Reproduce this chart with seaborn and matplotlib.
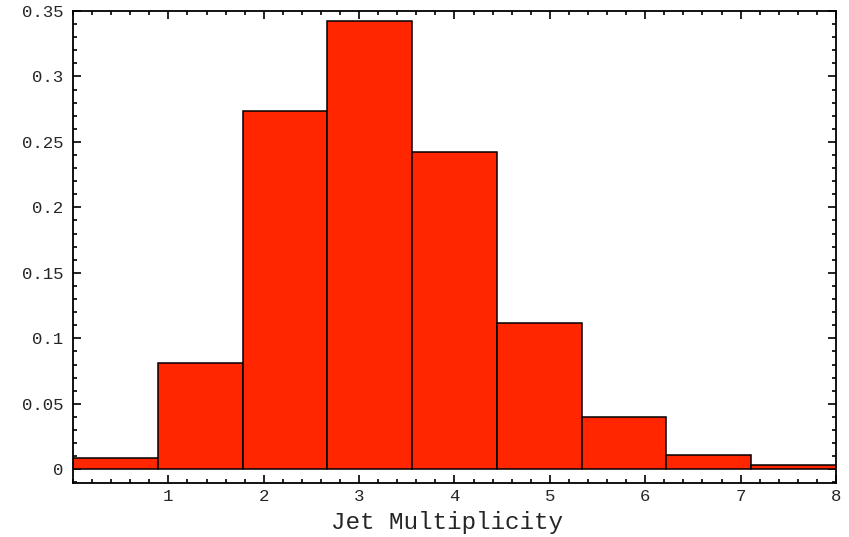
import numpy as np
import pandas as pd
import matplotlib
matplotlib.use("Agg")
import matplotlib.pyplot as plt
from matplotlib.ticker import MultipleLocator, FixedLocator
import seaborn as sns

# Normalised jet-multiplicity distribution, nine equal-width bins spanning 0..8
bin_edges = list(np.linspace(0.0, 8.0, 10))
fractions = [0.0084, 0.0811, 0.2737, 0.3420, 0.2420, 0.1119, 0.0397, 0.0111, 0.0033]
x_tick_values = [1, 2, 3, 4, 5, 6, 7, 8]
y_tick_values = [0, 0.05, 0.1, 0.15, 0.2, 0.25, 0.3, 0.35]
y_tick_labels = ["0", "0.05", "0.1", "0.15", "0.2", "0.25", "0.3", "0.35"]

centers = [(a + b) / 2 for a, b in zip(bin_edges[:-1], bin_edges[1:])]
df = pd.DataFrame({"multiplicity": centers, "fraction": fractions})

sns.set_style("white")
plt.rcParams["font.family"] = ["Liberation Mono", "DejaVu Sans Mono"]

fig = plt.figure(figsize=(8.49, 5.37), dpi=100)
ax = fig.add_axes([73 / 849, 1 - 483 / 537, (836 - 73) / 849, (483 - 11) / 537])

sns.histplot(data=df, x="multiplicity", weights="fraction", bins=bin_edges,
             stat="count", color="#FF2600", alpha=1.0,
             edgecolor="black", linewidth=1.1, ax=ax)

ax.set_xlim(0, 8)
ax.set_ylim(-0.0105, 0.35)

ax.xaxis.set_major_locator(FixedLocator(x_tick_values))
ax.xaxis.set_minor_locator(MultipleLocator(0.2))
ax.set_yticks(y_tick_values)
ax.set_yticklabels(y_tick_labels)
ax.yaxis.set_minor_locator(MultipleLocator(0.01))

ax.tick_params(which="both", direction="in", top=True, right=True,
               bottom=True, left=True, width=1.2, color="black")
ax.tick_params(which="major", length=5.5, labelsize=12.5)
ax.tick_params(axis="x", which="major", pad=4)
ax.tick_params(axis="y", which="major", pad=7)
ax.tick_params(which="minor", length=3)

for spine in ax.spines.values():
    spine.set_visible(True)
    spine.set_color("black")
    spine.set_linewidth(1.3)

ax.set_ylabel("")
ax.set_xlabel("Jet Multiplicity", fontsize=17.5)
ax.xaxis.label.set_va("baseline")
ax.xaxis.set_label_coords(0.49, -(529 - 483) / 472)

fig.savefig("out.png", dpi=100)
